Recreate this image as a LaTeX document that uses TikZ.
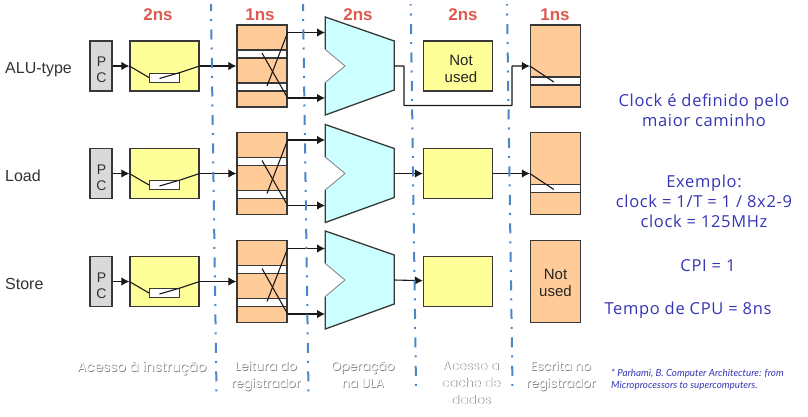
\documentclass[tikz,border=0pt]{standalone}
\usepackage{fontspec}
\setmainfont{Liberation Sans}
\newfontfamily\sidefont[LetterSpace=4]{Open Sans}
\newfontfamily\notefont{Lato}
\newfontfamily\capfont{Poppins}
\usetikzlibrary{positioning}
\usetikzlibrary{calc}
\usetikzlibrary{arrows.meta}
\definecolor{edgegray}{HTML}{383838}
\definecolor{pcgray}{HTML}{D9D9D9}
\definecolor{memyellow}{HTML}{FFFF99}
\definecolor{regpeach}{HTML}{FFCC99}
\definecolor{alucyan}{HTML}{CCFFFF}
\definecolor{timered}{HTML}{DD5B4E}
\definecolor{stageblue}{HTML}{4A86C8}
\definecolor{sideblue}{HTML}{3535B5}
\tikzset{
  box/.style={draw=edgegray, line width=1.3pt, inner sep=0pt},
  pcbox/.style={box, fill=pcgray, minimum width=22pt, minimum height=50pt},
  pctext/.style={align=center, inner sep=0pt, text=black!80, font=\fontsize{14}{16}\selectfont},
  unused/.style={align=center, inner sep=0pt, text=black!85, font=\fontsize{15}{17}\selectfont},
  membox/.style={box, fill=memyellow, minimum width=69pt, minimum height=50pt},
  regbox/.style={box, fill=regpeach, minimum width=50pt, minimum height=82pt},
  strip/.style={draw=edgegray, line width=1.3pt, fill=white, inner sep=0pt, minimum width=50pt, minimum height=8pt},
  mux/.style={draw=edgegray, line width=1pt, fill=white, inner sep=0pt, minimum width=30pt, minimum height=9pt},
  alubox/.style={inner sep=0pt, minimum width=69pt, minimum height=98pt},
  wire/.style={line width=1.1pt, draw=black!90, -{Latex[length=8pt,width=8.5pt]}},
  link/.style={line width=1.1pt, draw=black!90},
  stage/.style={draw=stageblue, line width=2pt, dash pattern=on 10pt off 8pt on 2pt off 8.5pt},
  time/.style={text=timered, font=\fontsize{17}{19}\selectfont\bfseries},
  rowname/.style={text=black!80, font=\fontsize{16}{18}\selectfont},
  side/.style={text=sideblue, align=center, font=\sidefont\fontsize{16.5}{20}\selectfont},
  ghost/.style={text=white, align=center, font=\capfont\fontsize{12.5}{17}\selectfont},
  ghostback/.style={text=black!50, align=center, font=\capfont\fontsize{12.5}{17}\selectfont},
}
\begin{document}
\begin{tikzpicture}[x=1pt, y=-1pt]
\useasboundingbox (0,0) rectangle (808,416);
% first row
\node (pc1) [pcbox] at (101,66) {};
\node (im1) [membox, right of=pc1, node distance=63.5pt] {};
\node (rf1) [regbox, right of=im1, node distance=97.5pt] {};
\node (alu1) [alubox, right of=rf1, node distance=97.75pt] {};
\node (dm1) [membox, right of=alu1, node distance=98.25pt] {};
\node (wb1) [regbox, right of=dm1, node distance=97.5pt] {};
\node (pt1) [pctext] at ($(pc1)+(.5,3.5)$) {P\\C};
\node (nu1) [unused] at ($(dm1)+(3,3)$) {Not\\used};
\node (mx1) [mux] at ($(im1)+(0,11.5)$) {};
\node (rs1) [strip] at ($(rf1)+(0,-12)$) {};
\node (rt1) [strip] at ($(rf1)+(0,21)$) {};
\node (ws1) [strip] at ($(wb1)+(0,15)$) {};
\coordinate (bus1) at (404,105.5);
\coordinate (bus2) at (512,105.5);
\draw [wire] (pc1) -- (im1);
\draw [link] (im1.west) -- (mx1.west);
\draw [link] ($(mx1)+(-5,1)$) -- (mx1.north east) -- (im1.east);
\draw [wire] (im1) -- (rf1);
\draw [link] ($(rf1.east)+(0,-33.5)$) -- ($(rf1)+(5,20)$);
\draw [link] ($(rf1)+(0,-13)$) -- ($(rf1.east)+(0,32)$);
\draw [wire] ($(rf1.east)+(0,-33.5)$) -- ($(alu1.west)+(0,-33.5)$);
\draw [wire] ($(rf1.east)+(0,32)$) -- ($(alu1.west)+(0,32)$);
\draw [fill=alucyan, draw=none, shift={(alu1)}] (-34.5,-49) -- (34.5,-25) -- (34.5,24) -- (-34.5,49) -- (-34.5,16.5) -- (-14.75,0) -- (-34.5,-16.5) -- cycle;
\draw [draw=edgegray, line width=1.3pt, shift={(alu1)}] (-34.5,-16.5) -- (-34.5,-49) -- (34.5,-25) -- (34.5,24) -- (-34.5,49) -- (-34.5,16.5);
\draw [draw=gray, line width=.8pt, shift={(alu1)}] (-34.5,16.5) -- (-14.75,0) -- (-34.5,-16.5);
\draw [wire, rounded corners=.5pt] (alu1.east) -| (bus1) -- (bus2) |- (wb1.west);
\draw [link] (wb1.west) -- ($(wb1.west)+(24,16)$);
% second row
\node (pc2) [pcbox, below of=pc1, node distance=107.5pt] {};
\node (im2) [membox, right of=pc2, node distance=63.5pt] {};
\node (rf2) [regbox, right of=im2, node distance=97.5pt] {};
\node (alu2) [alubox, right of=rf2, node distance=97.75pt] {};
\node (dm2) [membox, right of=alu2, node distance=98.25pt] {};
\node (wb2) [regbox, right of=dm2, node distance=97.5pt] {};
\node (pt2) [pctext] at ($(pc2)+(.5,4)$) {P\\C};
\node (mx2) [mux] at ($(im2)+(0,11.5)$) {};
\node (rs2) [strip] at ($(rf2)+(0,-12)$) {};
\node (rt2) [strip] at ($(rf2)+(0,21)$) {};
\node (ws2) [strip] at ($(wb2)+(0,15)$) {};
\draw [wire] (pc2) -- (im2);
\draw [link] (im2.west) -- (mx2.west);
\draw [link] ($(mx2)+(-5,1)$) -- (mx2.north east) -- (im2.east);
\draw [wire] (im2) -- (rf2);
\draw [link] ($(rf2.east)+(0,-33.5)$) -- ($(rf2)+(5,20)$);
\draw [link] ($(rf2)+(0,-13)$) -- ($(rf2.east)+(0,32)$);
\draw [wire] ($(rf2.east)+(0,-33.5)$) -- ($(alu2.west)+(0,-33.5)$);
\draw [wire] ($(rf2.east)+(0,32)$) -- ($(alu2.west)+(0,32)$);
\draw [fill=alucyan, draw=none, shift={(alu2)}] (-34.5,-49) -- (34.5,-25) -- (34.5,24) -- (-34.5,49) -- (-34.5,16.5) -- (-14.75,0) -- (-34.5,-16.5) -- cycle;
\draw [draw=edgegray, line width=1.3pt, shift={(alu2)}] (-34.5,-16.5) -- (-34.5,-49) -- (34.5,-25) -- (34.5,24) -- (-34.5,49) -- (-34.5,16.5);
\draw [draw=gray, line width=.8pt, shift={(alu2)}] (-34.5,16.5) -- (-14.75,0) -- (-34.5,-16.5);
\draw [wire] (alu2.east) -- (dm2);
\draw [wire] (dm2) -- (wb2);
\draw [link] (wb2.west) -- ($(wb2.west)+(24,16)$);
% third row
\node (pc3) [pcbox, below of=pc2, node distance=108pt] {};
\node (im3) [membox, right of=pc3, node distance=63.5pt] {};
\node (rf3) [regbox, right of=im3, node distance=97.5pt] {};
\node (alu3) [alubox, right of=rf3, node distance=97.75pt, yshift=1.5pt] {};
\node (dm3) [membox, right of=rf3, node distance=196pt] {};
\node (wb3) [regbox, right of=dm3, node distance=97.5pt] {};
\node (pt3) [pctext] at ($(pc3)+(.5,4)$) {P\\C};
\node (nu3) [unused] at ($(wb3)+(0,1.5)$) {Not\\used};
\node (mx3) [mux] at ($(im3)+(0,11.5)$) {};
\node (rs3) [strip] at ($(rf3)+(0,-12)$) {};
\node (rt3) [strip] at ($(rf3)+(0,21)$) {};
\draw [wire] (pc3) -- (im3);
\draw [link] (im3.west) -- (mx3.west);
\draw [link] ($(mx3)+(-5,1)$) -- (mx3.north east) -- (im3.east);
\draw [wire] (im3) -- (rf3);
\draw [link] ($(rf3.east)+(0,-33)$) -- ($(rf3)+(5,20)$);
\draw [link] ($(rf3)+(0,-13)$) -- ($(rf3.east)+(0,32.5)$);
\draw [wire] ($(rf3.east)+(0,-33)$) -- ($(alu3.west)+(0,-31.5)$);
\draw [wire] ($(rf3.east)+(0,32.5)$) -- ($(alu3.west)+(0,34)$);
\draw [fill=alucyan, draw=none, shift={(alu3)}] (-34.5,-49) -- (34.5,-25) -- (34.5,24) -- (-34.5,49) -- (-34.5,16.5) -- (-14.75,0) -- (-34.5,-16.5) -- cycle;
\draw [draw=edgegray, line width=1.3pt, shift={(alu3)}] (-34.5,-16.5) -- (-34.5,-49) -- (34.5,-25) -- (34.5,24) -- (-34.5,49) -- (-34.5,16.5);
\draw [draw=gray, line width=.8pt, shift={(alu3)}] (-34.5,16.5) -- (-14.75,0) -- (-34.5,-16.5);
\draw [wire] (alu3.east) -- (dm3);
% stage separators
\draw [stage, dash phase=3pt] (211,4) -- (216.5,392);
\draw [stage, dash phase=3pt] (303,4) -- (308.5,392);
\draw [stage, dash phase=8.5pt] (410.7,4) -- (416,387);
\draw [stage, dash phase=8.5pt] (507,4) -- (512.5,387);
% times and row names
\node (t1) [time] at (158,15) {2ns};
\node (t2) [time] at (260,15) {1ns};
\node (t3) [time] at (358,15) {2ns};
\node (t4) [time] at (463,15) {2ns};
\node (t5) [time] at (555,15) {1ns};
\node (n1) [rowname, anchor=west, inner sep=0pt] at (5,70) {ALU-type};
\node (n2) [rowname, anchor=west, inner sep=0pt] at (5,176) {Load};
\node (n3) [rowname, anchor=west, inner sep=0pt] at (5,284) {Store};
% stage captions
\node (b1) [ghostback, font=\capfont\fontsize{13.6}{17}\selectfont] at (142.7,368.7) {Acesso à instrução};
\node (c1) [ghost, font=\capfont\fontsize{13.6}{17}\selectfont] at (142,368) {Acesso à instrução};
\node (b2) [ghostback] at (266.7,376.7) {Leitura do\\registrador};
\node (c2) [ghost] at (266,376) {Leitura do\\registrador};
\node (b3) [ghostback] at (363.7,375.7) {Operação\\na ULA};
\node (c3) [ghost] at (363,375) {Operação\\na ULA};
\node (b4) [ghostback] at (471.7,383.7) {Acesso a\\cache de\\dados};
\node (c4) [ghost] at (471,383) {Acesso a\\cache de\\dados};
\node (b5) [ghostback] at (561.7,376.7) {Escrita no\\registrador};
\node (c5) [ghost] at (561,376) {Escrita no\\registrador};
% side notes
\node (s1) [side] at (704,110) {Clock é definido pelo\\maior caminho};
\node (s2) [side] at (704,201) {Exemplo:\\clock = 1/T = 1 / 8x2-9\\clock = 125MHz};
\node (s3) [side] at (708,266) {CPI = 1};
\node (s4) [side] at (688,310) {Tempo de CPU = 8ns};
\node (s5) [text=sideblue, align=left, anchor=west, inner sep=0pt, font=\notefont\itshape\fontsize{9.8}{12}\selectfont] at (611,380) {* Parhami, B. Computer Architecture: from\\Microprocessors to supercomputers.};
\end{tikzpicture}
\end{document}
